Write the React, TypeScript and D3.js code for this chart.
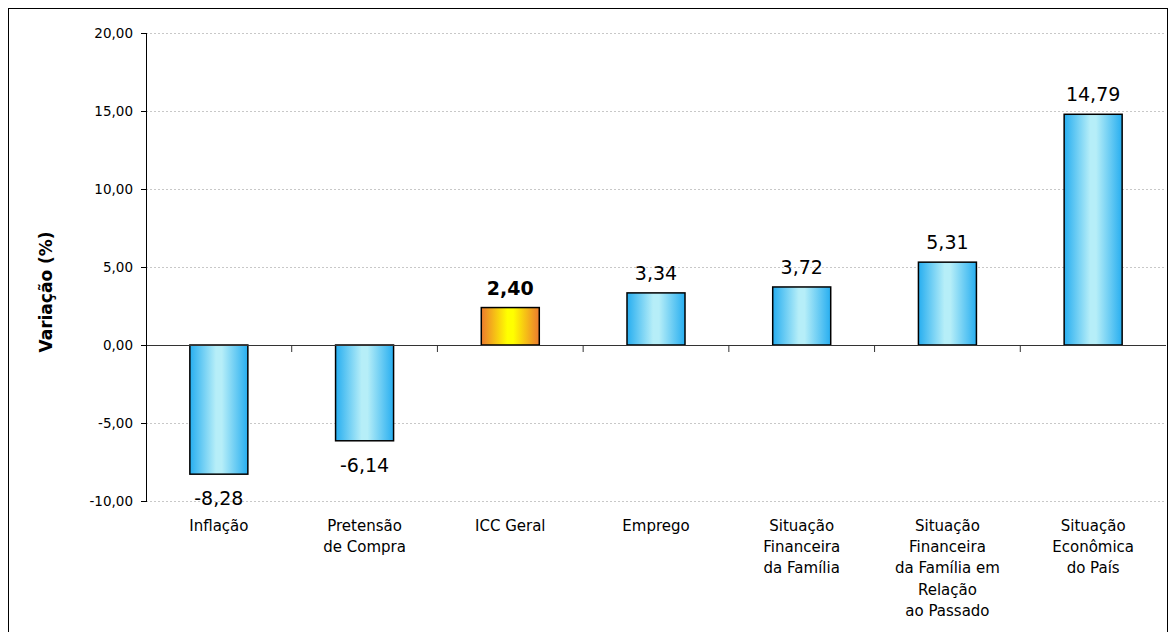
import React from "react";
import * as d3 from "d3";

const categories: string[][] = [
  ["Inflação"],
  ["Pretensão", "de Compra"],
  ["ICC Geral"],
  ["Emprego"],
  ["Situação", "Financeira", "da Família"],
  ["Situação", "Financeira", "da Família em", "Relação", "ao Passado"],
  ["Situação", "Econômica", "do País"],
];
const values: number[] = [-8.28, -6.14, 2.4, 3.34, 3.72, 5.31, 14.79];
const highlight: boolean[] = [false, false, true, false, false, false, false];
const yTicks: number[] = [-10, -5, 0, 5, 10, 15, 20];

const W = 1172;
const H = 632;
const FONT = "'DejaVu Sans', sans-serif";
const fmt = (v: number) => v.toFixed(2).replace(".", ",");

export default function App() {
  const x0 = 146, x1 = 1166;
  const y = d3.scaleLinear().domain([-10, 20]).range([501, 33]);
  const step = (x1 - x0) / categories.length;
  const bw = 58;
  return (
    <svg width={W} height={H} style={{ position: "absolute", left: 0, top: 0, fontFamily: FONT }}>
      <defs>
        <linearGradient id="blue" x1="0" x2="1" y1="0" y2="0">
          <stop offset="0" stopColor="#27aef0" />
          <stop offset="0.45" stopColor="#b6eef8" />
          <stop offset="0.55" stopColor="#b6eef8" />
          <stop offset="1" stopColor="#27aef0" />
        </linearGradient>
        <linearGradient id="orange" x1="0" x2="1" y1="0" y2="0">
          <stop offset="0" stopColor="#ec7a2e" />
          <stop offset="0.45" stopColor="#ffff00" />
          <stop offset="0.55" stopColor="#ffff00" />
          <stop offset="1" stopColor="#ec7a2e" />
        </linearGradient>
      </defs>
      <rect x={8.5} y={8.5} width={1159} height={640} fill="white" stroke="#000" strokeWidth={1} />
      {yTicks.map((t) => (
        <g key={t}>
          {t !== 0 && (
            <line x1={x0} x2={x1} y1={y(t) + 0.5} y2={y(t) + 0.5} stroke="#c8c8c8" strokeDasharray="2,2" />
          )}
          <line x1={x0 - 5} x2={x0} y1={y(t) + 0.5} y2={y(t) + 0.5} stroke="#000" />
          <text x={x0 - 13} y={y(t) + 5} textAnchor="end" fontSize={13.5} fill="#000">
            {fmt(t)}
          </text>
        </g>
      ))}
      {values.map((v, i) => {
        const cx = x0 + step * (i + 0.5);
        const top = y(Math.max(0, v));
        const bot = y(Math.min(0, v));
        return (
          <g key={i}>
            <rect
              x={cx - bw / 2}
              y={top}
              width={bw}
              height={bot - top}
              fill={highlight[i] ? "url(#orange)" : "url(#blue)"}
              stroke="#000"
              strokeWidth={1.5}
            />
            <text
              x={cx}
              y={v >= 0 ? top - 13 : bot + 31}
              textAnchor="middle"
              fontSize={19}
              fontWeight={highlight[i] ? "bold" : "normal"}
              fill="#000"
            >
              {fmt(v)}
            </text>
            {categories[i].map((line, j) => (
              <text key={j} x={cx} y={531 + j * 21.2} textAnchor="middle" fontSize={15} fill="#000">
                {line}
              </text>
            ))}
          </g>
        );
      })}
      <line x1={x0} x2={x1} y1={y(0) + 0.5} y2={y(0) + 0.5} stroke="#333" />
      {d3.range(1, categories.length).map((k) => (
        <line key={k} x1={x0 + step * k} x2={x0 + step * k} y1={y(0)} y2={y(0) + 7} stroke="#333" />
      ))}
      <line x1={x0 + 0.5} x2={x0 + 0.5} y1={y(20)} y2={y(-10) + 1} stroke="#000" />
      <text
        transform={`translate(52,${(y(20) + y(-10)) / 2 + 25}) rotate(-90)`}
        textAnchor="middle"
        fontSize={17}
        fontWeight="bold"
        fill="#000"
      >
        Variação (%)
      </text>
    </svg>
  );
}
